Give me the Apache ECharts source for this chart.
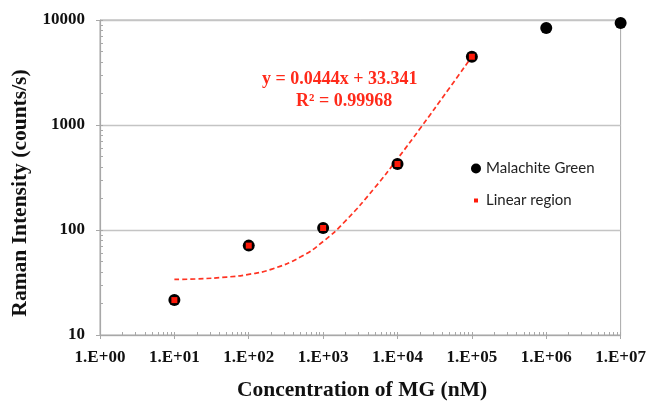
<!DOCTYPE html>
<html><head><meta charset="utf-8">
<script src="https://cdn.jsdelivr.net/npm/echarts@6/dist/echarts.min.js"></script>
<style>html,body{margin:0;padding:0;background:#fff}#c{width:649px;height:401px}</style>
</head><body><div id="c"></div>
<script>
var concentrations = [10, 100, 1000, 10000, 100000, 1000000, 10000000];
var intensities = [21.5, 71, 104.5, 425, 4470, 8400, 9350];
var linearX = [10, 100, 1000, 10000, 100000];
var linearY = [21.5, 71, 104.5, 425, 4470];
var trendX = [10, 20, 50, 100, 200, 500, 1000, 2000, 5000, 10000, 20000, 50000, 100000];
var trendY = [33.8, 34.2, 35.6, 37.8, 42.2, 55.5, 77.7, 122, 255, 477, 921, 2253, 4473];
var xTickLabels = ['1.E+00','1.E+01','1.E+02','1.E+03','1.E+04','1.E+05','1.E+06','1.E+07'];
var yTickLabels = ['10','100','1000','10000'];
var seriesNames = ['Malachite Green', 'Linear region'];
var equationLines = ['y = 0.0444x + 33.341', 'R\u00B2 = 0.99968'];
var xTitle = 'Concentration of MG (nM)';
var yTitle = 'Raman Intensity (counts/s)';

function minorTicks(lo, hi) {
  var out = [];
  for (var d = lo; d < hi; d *= 10) for (var k = 1; k <= 9; k++) out.push(d * k);
  out.push(hi);
  return out;
}
var serif = '"Liberation Serif", "Times New Roman", serif';
var axisGrey = '#a8a8a8';
var chart = echarts.init(document.getElementById('c'), null, {renderer: 'canvas'});
chart.setOption({
  animation: false,
  grid: {left: 100, right: 26, top: 20, bottom: 66, show: true, borderColor: axisGrey, borderWidth: 1},
  legend: {
    orient: 'vertical', left: 466, top: 156, itemGap: 17, itemWidth: 10, itemHeight: 10,
    textStyle: {fontFamily: 'Lato, "Open Sans", sans-serif', fontSize: 15, color: '#222'},
    data: [
      {name: seriesNames[0], icon: 'circle', itemStyle: {color: '#000', opacity: 1}},
      {name: seriesNames[1], icon: 'path://M0,0M10,10M3,3h4v4h-4z', itemStyle: {color: '#ff1a0a', opacity: 1}}
    ]
  },
  xAxis: [{
    type: 'log', logBase: 10, min: 1, max: 1e7, gridIndex: 0,
    axisLine: {show: true, lineStyle: {color: axisGrey, width: 1.2}},
    axisTick: {show: true, length: 4, lineStyle: {color: axisGrey}},
    splitLine: {show: false},
    axisLabel: {margin: 14, fontFamily: serif, fontWeight: 'bold', fontSize: 17, color: '#111',
      formatter: function (v) { return xTickLabels[Math.round(Math.log10(v))]; }}
  }, {
    type: 'log', logBase: 10, min: 1, max: 1e7, gridIndex: 0, position: 'bottom',
    axisLine: {show: false}, axisLabel: {show: false}, splitLine: {show: false},
    axisTick: {show: true, inside: true, length: 3, lineStyle: {color: axisGrey},
      customValues: minorTicks(1, 1e7)}
  }],
  yAxis: [{
    type: 'log', logBase: 10, min: 10, max: 10000,
    axisLine: {show: true, lineStyle: {color: axisGrey, width: 1.2}},
    axisTick: {show: true, length: 4, lineStyle: {color: axisGrey}},
    splitLine: {show: true, lineStyle: {color: '#c4c4c4', width: 1.3}},
    axisLabel: {margin: 15, fontFamily: serif, fontWeight: 'bold', fontSize: 17, color: '#111',
      formatter: function (v) { return yTickLabels[Math.round(Math.log10(v)) - 1]; }}
  }, {
    type: 'log', logBase: 10, min: 10, max: 10000, position: 'left',
    axisLine: {show: false}, axisLabel: {show: false}, splitLine: {show: false},
    axisTick: {show: true, inside: true, length: 3, lineStyle: {color: axisGrey},
      customValues: minorTicks(10, 10000)}
  }],
  series: [{
    name: 'trend', type: 'line', smooth: true, symbol: 'none', silent: true, z: 2,
    data: trendX.map(function (x, i) { return [x, trendY[i]]; }),
    lineStyle: {color: '#ff3322', width: 1.7, type: [5, 3]}
  }, {
    name: seriesNames[0], type: 'scatter', symbol: 'circle', symbolSize: 12, z: 3,
    data: concentrations.map(function (x, i) { return [x, intensities[i]]; }),
    itemStyle: {color: '#000', opacity: 1}
  }, {
    name: seriesNames[1], type: 'scatter', symbol: 'rect', symbolSize: 6, z: 4,
    data: linearX.map(function (x, i) { return [x, linearY[i]]; }),
    itemStyle: {color: '#ff1a0a', opacity: 1}
  }],
  graphic: [
    {type: 'text', left: 262, top: 70, style: {text: equationLines[0], font: 'bold 18px ' + serif, fill: '#ff2a1a'}},
    {type: 'text', left: 296, top: 92, style: {text: equationLines[1], font: 'bold 18px ' + serif, fill: '#ff2a1a'}},
    {type: 'text', x: 362, y: 390, style: {text: xTitle, font: 'bold 21.5px ' + serif, fill: '#111', align: 'center', verticalAlign: 'middle'}},
    {type: 'text', x: 20, y: 193, rotation: Math.PI / 2, style: {text: yTitle, font: 'bold 21.5px ' + serif, fill: '#111', align: 'center', verticalAlign: 'middle'}}
  ]
});
</script></body></html>
